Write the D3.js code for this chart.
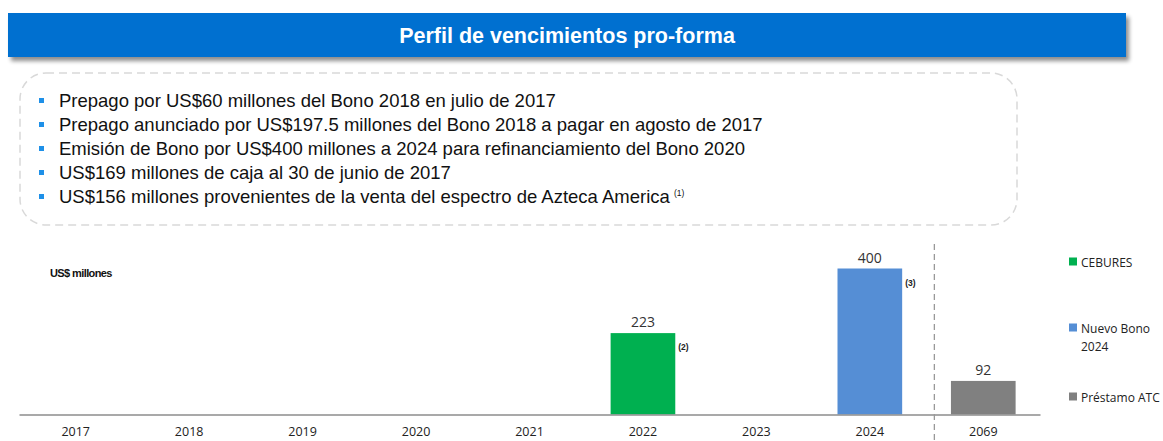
<!DOCTYPE html>
<html><head><meta charset="utf-8">
<script src="https://cdn.jsdelivr.net/npm/d3@7"></script>
<style>body{margin:0;background:#fff;}svg{display:block;}</style>
</head><body>
<svg id="c" width="1163" height="441"></svg>
<script>
const title = "Perfil de vencimientos pro-forma";
const bullets = [
  "Prepago por US$60 millones del Bono 2018 en julio de 2017",
  "Prepago anunciado por US$197.5 millones del Bono 2018 a pagar en agosto de 2017",
  "Emisión de Bono por US$400 millones a 2024 para refinanciamiento del Bono 2020",
  "US$169 millones de caja al 30 de junio de 2017",
  "US$156 millones provenientes de la venta del espectro de Azteca America"
];
const categories = ["2017","2018","2019","2020","2021","2022","2023","2024","2069"];
const seriesNames = ["CEBURES","Nuevo Bono 2024","Préstamo ATC"];
const seriesColors = ["#00B050","#558ED5","#808080"];
const cebures = [0,0,0,0,0,223,0,0,0];
const nuevoBono = [0,0,0,0,0,0,0,400,0];
const prestamoATC = [0,0,0,0,0,0,0,0,92];
const footnotes = {"2022":"(2)","2024":"(3)"};

const svg = d3.select("#c");
const defs = svg.append("defs");
const f = defs.append("filter").attr("id","sh").attr("x","-5%").attr("y","-30%").attr("width","110%").attr("height","170%");
f.append("feGaussianBlur").attr("in","SourceAlpha").attr("stdDeviation",2);
f.append("feOffset").attr("dx",3).attr("dy",4).attr("result","ob");
f.append("feComponentTransfer").append("feFuncA").attr("type","linear").attr("slope",0.45);
const fm = f.append("feMerge"); fm.append("feMergeNode"); fm.append("feMergeNode").attr("in","SourceGraphic");

// Title bar
svg.append("rect").attr("x",8).attr("y",13).attr("width",1118).attr("height",44).attr("fill","#0070D0").attr("filter","url(#sh)");
svg.append("text").attr("x",567).attr("y",43).attr("text-anchor","middle").attr("fill","#fff")
  .attr("font-family","Liberation Sans, Arial, sans-serif").attr("font-weight","bold").attr("font-size",21.5).text(title);

// Dashed box
svg.append("rect").attr("x",20).attr("y",73).attr("width",997).attr("height",152).attr("rx",26).attr("ry",26)
  .attr("fill","none").attr("stroke","#d9d9d9").attr("stroke-width",1.5).attr("stroke-dasharray","8,5");
const lineY = d3.scalePoint().domain(d3.range(bullets.length)).range([107,203]);
bullets.forEach((b,i)=>{
  svg.append("rect").attr("x",39).attr("y",lineY(i)-9).attr("width",5).attr("height",5).attr("fill","#1E90E8");
  const t = svg.append("text").attr("x",59).attr("y",lineY(i)).attr("fill","#111")
    .attr("font-family","Liberation Sans, Arial, sans-serif").attr("font-size",18.5).text(b);
  if(i===bullets.length-1){
    t.append("tspan").attr("font-size",8.5).attr("dx",4).attr("dy",-7).text("(1)");
  }
});

// Chart
const x = d3.scaleBand().domain(categories).range([19,1040]).paddingInner(0.43).paddingOuter(0.215);
const y = d3.scaleLinear().domain([0,400]).range([414.5,268.5]);
const series = [cebures,nuevoBono,prestamoATC];
const g = svg.append("g");
series.forEach((s,si)=>{
  categories.forEach((c,ci)=>{
    const v = s[ci]; if(!v) return;
    g.append("rect").attr("x",x(c)).attr("y",y(v)).attr("width",x.bandwidth()).attr("height",y(0)-y(v)).attr("fill",seriesColors[si]);
    g.append("text").attr("x",x(c)+x.bandwidth()/2).attr("y",y(v)-6).attr("text-anchor","middle").attr("fill","#333")
      .attr("font-family","Open Sans, sans-serif").attr("font-size",14).text(v);
    if(footnotes[c]){
      g.append("text").attr("x",x(c)+x.bandwidth()+3).attr("y",y(v)+17).attr("fill","#222")
        .attr("font-family","Liberation Sans, Arial, sans-serif").attr("font-weight","bold").attr("font-size",8.5).text(footnotes[c]);
    }
  });
});
const xAxis = d3.axisBottom(x).tickSize(0).tickPadding(13);
const ax = svg.append("g").attr("transform","translate(0,414.5)").call(xAxis);
ax.select(".domain").attr("stroke","#8c8c8c").attr("stroke-width",1.5);
ax.selectAll("text").attr("font-family","Open Sans, sans-serif").attr("font-size",12.5).attr("fill","#222");

// Dashed separator
const gap = x.step() - x.bandwidth();
const sepX = x("2069") - gap*0.34;
svg.append("line").attr("x1",sepX).attr("x2",sepX).attr("y1",244).attr("y2",441)
  .attr("stroke","#999").attr("stroke-width",1.3).attr("stroke-dasharray","6,4");

// Y unit label
svg.append("text").attr("x",50).attr("y",277).attr("font-family","Liberation Sans, Arial, sans-serif")
  .attr("font-weight","bold").attr("font-size",11).attr("letter-spacing",-0.6).attr("fill","#111").text("US$ millones");

// Legend
const legY = [262,328,397];
seriesNames.forEach((n,i)=>{
  svg.append("rect").attr("x",1069).attr("y",legY[i]-4.5).attr("width",8).attr("height",8).attr("fill",seriesColors[i]);
  const t = svg.append("text").attr("x",1081).attr("y",legY[i]+4.5).attr("font-family","Open Sans, sans-serif")
    .attr("font-size",12).attr("fill","#222");
  if(n==="Nuevo Bono 2024"){
    t.append("tspan").attr("x",1081).text("Nuevo Bono");
    t.append("tspan").attr("x",1081).attr("dy",18).text("2024");
  } else t.text(n);
});
</script>
</body></html>
